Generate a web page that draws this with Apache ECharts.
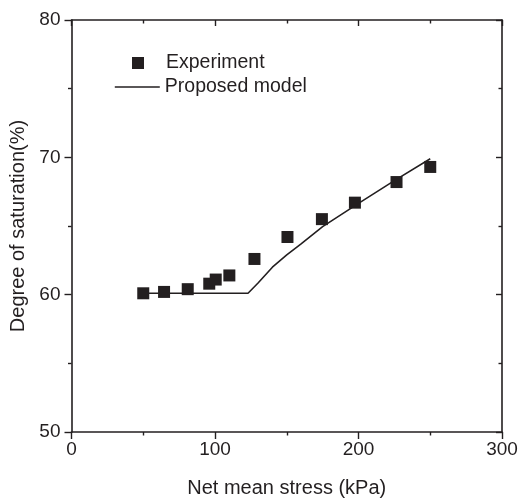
<!DOCTYPE html>
<html>
<head>
<meta charset="utf-8">
<script src="https://cdn.jsdelivr.net/npm/echarts@6/dist/echarts.min.js"></script>
<style>
  html, body { margin: 0; padding: 0; background: #fff; }
  #chart { width: 520px; height: 499px; }
</style>
</head>
<body>
<div id="chart"></div>
<script>
// experiment points: net mean stress (kPa) vs degree of saturation (%)
const expStress = [50, 64.5, 81, 96, 100.5, 110, 127.5, 150.5, 174.5, 197.5, 226.5, 250]
const expSat = [60.1, 60.2, 60.4, 60.8, 61.1, 61.4, 62.6, 64.2, 65.5, 66.7, 68.2, 69.3]

// proposed model curve
const modelStress = [50, 123, 130, 140, 150, 160, 175, 200, 225, 250]
const modelSat = [60.1, 60.1, 60.85, 62.0, 62.9, 63.7, 64.95, 66.65, 68.3, 69.9]

const xTicks = [0, 100, 200, 300]
const yTicks = [50, 60, 70, 80]

const ink = '#231f20'
const font = 'Liberation Sans, Arial, sans-serif'

const myChart = echarts.init(document.getElementById('chart'))

const axisCommon = {
  axisLine: { show: true, onZero: false, lineStyle: { color: ink, width: 1.6 } },
  splitLine: { show: false },
  minorTick: { show: true, splitNumber: 2, length: 3.5, lineStyle: { color: ink, width: 1.4 } },
}

const option = {
  animation: false,
  backgroundColor: '#fff',
  textStyle: { fontFamily: font, color: ink },
  grid: { left: 71.5, right: 18, top: 20, bottom: 67, outerBoundsMode: 'none' },
  legend: [
    {
      data: [{ name: 'Experiment', icon: 'rect' }],
      left: 127,
      top: 48,
      itemWidth: 12,
      itemHeight: 12,
      selectedMode: false,
      textStyle: { fontFamily: font, fontSize: 19.5, color: ink, padding: [0, 0, 0, 17] },
    },
    {
      data: ['Proposed model'],
      left: 109,
      top: 72,
      itemWidth: 45,
      itemHeight: 12,
      selectedMode: false,
      itemStyle: { opacity: 0 },
      lineStyle: { color: ink, width: 1.6 },
      textStyle: { fontFamily: font, fontSize: 19.5, color: ink },
    },
  ],
  xAxis: [
    {
      ...axisCommon,
      type: 'value',
      position: 'bottom',
      min: xTicks[0],
      max: xTicks[xTicks.length - 1],
      interval: 100,
      name: 'Net mean stress (kPa)',
      nameLocation: 'middle',
      nameGap: 46,
      nameTextStyle: { fontFamily: font, fontSize: 20, color: ink },
      axisTick: { show: true, inside: false, length: 7, lineStyle: { color: ink, width: 1.4 } },
      axisLabel: { margin: 8, fontFamily: font, fontSize: 19, color: ink },
    },
    {
      ...axisCommon,
      type: 'value',
      position: 'top',
      min: xTicks[0],
      max: xTicks[xTicks.length - 1],
      interval: 100,
      axisTick: { show: true, inside: true, length: 6, lineStyle: { color: ink, width: 1.4 } },
      axisLabel: { show: false },
    },
  ],
  yAxis: [
    {
      ...axisCommon,
      type: 'value',
      position: 'left',
      min: yTicks[0],
      max: yTicks[yTicks.length - 1],
      interval: 10,
      name: 'Degree of saturation(%)',
      nameLocation: 'middle',
      nameGap: 33,
      nameTextStyle: { fontFamily: font, fontSize: 20, color: ink },
      axisTick: { show: true, inside: false, length: 7, lineStyle: { color: ink, width: 1.4 } },
      axisLabel: { margin: 11, fontFamily: font, fontSize: 19, color: ink },
    },
    {
      ...axisCommon,
      type: 'value',
      position: 'right',
      min: yTicks[0],
      max: yTicks[yTicks.length - 1],
      interval: 10,
      axisTick: { show: true, inside: true, length: 6, lineStyle: { color: ink, width: 1.4 } },
      axisLabel: { show: false },
    },
  ],
  series: [
    {
      name: 'Experiment',
      type: 'scatter',
      symbol: 'rect',
      symbolSize: 12,
      itemStyle: { color: ink, opacity: 1 },
      data: expStress.map((x, i) => [x, expSat[i]]),
      z: 3,
    },
    {
      name: 'Proposed model',
      type: 'line',
      showSymbol: false,
      symbol: 'none',
      smooth: false,
      lineStyle: { color: ink, width: 1.6 },
      itemStyle: { color: ink },
      data: modelStress.map((x, i) => [x, modelSat[i]]),
      z: 2,
    },
  ],
}

myChart.setOption(option)
</script>
</body>
</html>
